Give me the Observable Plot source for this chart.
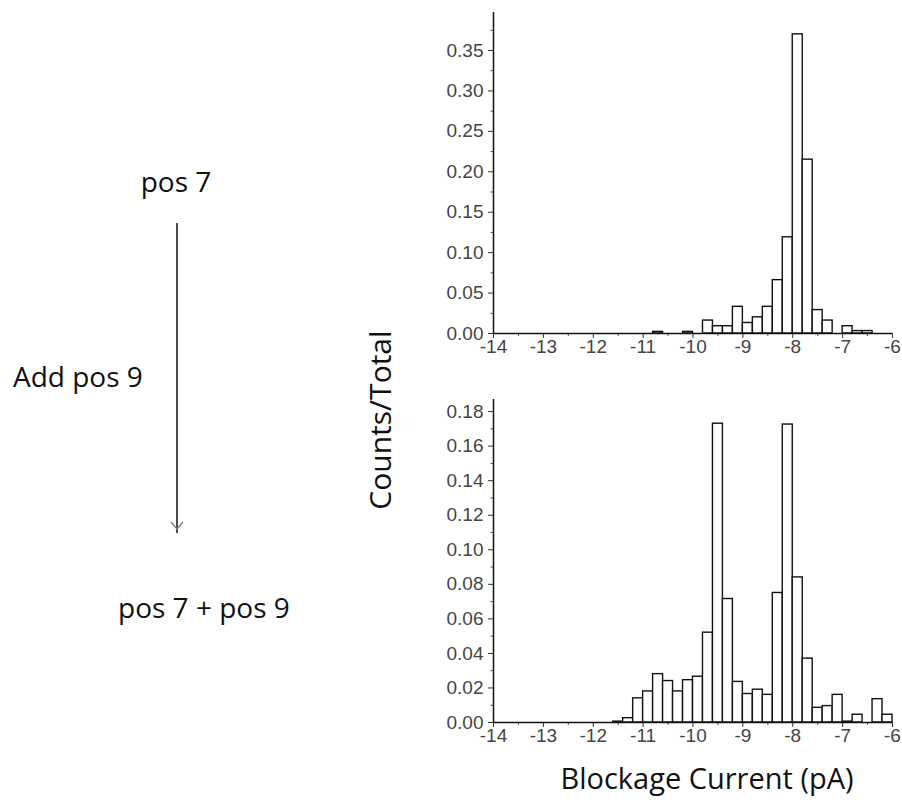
<!DOCTYPE html>
<html>
<head>
<meta charset="utf-8">
<script src="https://cdn.jsdelivr.net/npm/d3@7"></script>
<script src="https://cdn.jsdelivr.net/npm/@observablehq/plot@0.6"></script>
<style>
  html, body { margin: 0; padding: 0; background: #fff; }
  #wrap { position: relative; width: 902px; height: 803px; background: #fff; overflow: hidden; }
  #top, #bottom { position: absolute; left: 400px; }
  #top { top: 0px; }
  #bottom { top: 390px; }
  #overlay { position: absolute; left: 0; top: 0; pointer-events: none; }
  .ann { font-family: "Open Sans", sans-serif; font-size: 28px; fill: #111; }
</style>
</head>
<body>
<div id="wrap">
  <div id="top"></div>
  <div id="bottom"></div>
  <svg id="overlay" width="902" height="803">
    <text class="ann" x="176" y="192" text-anchor="middle">pos 7</text>
    <line x1="177" y1="223" x2="177" y2="533" stroke="#111" stroke-width="1.5"/>
    <polyline points="171,522 177,529 183,522" fill="none" stroke="#777" stroke-width="1.2"/>
    <text class="ann" x="13" y="387">Add pos 9</text>
    <text class="ann" x="118" y="618">pos 7 + pos 9</text>
    <text class="ann" text-anchor="middle" style="font-size:30px" transform="translate(391,420) rotate(-90)">Counts/Total</text>
    <text class="ann" x="707" y="789" text-anchor="middle" style="font-size:29px">Blockage Current (pA)</text>
  </svg>
</div>
<script>
// ---- data ----
const binWidth = 0.2;

// Top panel: pos 7
const topBinStart = [-10.8, -10.2, -9.8, -9.6, -9.4, -9.2, -9.0, -8.8, -8.6, -8.4, -8.2, -8.0, -7.8, -7.6, -7.4, -7.0, -6.8, -6.6];
const topValues   = [0.002, 0.002, 0.016, 0.009, 0.009, 0.033, 0.013, 0.020, 0.033, 0.066, 0.119, 0.370, 0.215, 0.029, 0.016, 0.009, 0.003, 0.003];

// Bottom panel: pos 7 + pos 9
const bottomBinStart = [-11.6, -11.4, -11.2, -11.0, -10.8, -10.6, -10.4, -10.2, -10.0, -9.8, -9.6, -9.4, -9.2, -9.0, -8.8, -8.6, -8.4, -8.2, -8.0, -7.8, -7.6, -7.4, -7.2, -7.0, -6.8, -6.4, -6.2];
const bottomValues   = [0.0005, 0.0025, 0.014, 0.018, 0.028, 0.024, 0.018, 0.0245, 0.0265, 0.052, 0.173, 0.0715, 0.0235, 0.0165, 0.019, 0.016, 0.075, 0.1725, 0.084, 0.037, 0.0085, 0.0095, 0.016, 0.0005, 0.0045, 0.0135, 0.0045];

// Tick labels
const xTicks = [-14, -13, -12, -11, -10, -9, -8, -7, -6];
const xMinorTicks = [-13.5, -12.5, -11.5, -10.5, -9.5, -8.5, -7.5, -6.5];
const topYTicks = [0, 0.05, 0.10, 0.15, 0.20, 0.25, 0.30, 0.35];
const topYMinor = [0.025, 0.075, 0.125, 0.175, 0.225, 0.275, 0.325, 0.375];
const bottomYTicks = [0, 0.02, 0.04, 0.06, 0.08, 0.10, 0.12, 0.14, 0.16, 0.18];
const bottomYMinor = [0.01, 0.03, 0.05, 0.07, 0.09, 0.11, 0.13, 0.15, 0.17];

const xDomain = [-14, -6];
const topYMax = 0.397;
const bottomYMax = 0.187;

function panel(starts, values, yTicks, yMinor, yMax, marginTop, plotH) {
  const data = starts.map((s, i) => ({x1: s, x2: s + binWidth, v: values[i]}));
  return Plot.plot({
    width: 502,
    height: 360,
    marginLeft: 93,
    marginRight: 10,
    marginTop: marginTop,
    marginBottom: 360 - marginTop - plotH,
    style: {fontFamily: "'Liberation Sans', Arial, sans-serif", fontSize: "19px", color: "#444", background: "transparent"},
    x: {domain: xDomain},
    y: {domain: [0, yMax]},
    marks: [
      Plot.rect(data, {x1: "x1", x2: "x2", y1: d => 0, y2: "v", fill: "white", stroke: "#111", strokeWidth: 1.4}),
      Plot.axisX({ticks: xTicks, tickFormat: d => String(d), tickSize: 5, tickPadding: 1, label: null, stroke: "#333", fontSize: 19}),
      Plot.axisX({ticks: xMinorTicks, text: null, tickSize: 3, label: null, stroke: "#555"}),
      Plot.axisY({ticks: yTicks, tickFormat: d3.format(".2f"), tickSize: 5, tickPadding: 5, label: null, stroke: "#333", fontSize: 19}),
      Plot.axisY({ticks: yMinor, text: null, tickSize: 2.5, label: null, stroke: "#555"}),
      Plot.ruleY([0], {stroke: "#111", strokeWidth: 1.5}),
      Plot.ruleX([xDomain[0]], {stroke: "#111", strokeWidth: 1.5})
    ]
  });
}

document.getElementById("top").appendChild(panel(topBinStart, topValues, topYTicks, topYMinor, topYMax, 12, 321));
document.getElementById("bottom").appendChild(panel(bottomBinStart, bottomValues, bottomYTicks, bottomYMinor, bottomYMax, 9, 323));
</script>
</body>
</html>
